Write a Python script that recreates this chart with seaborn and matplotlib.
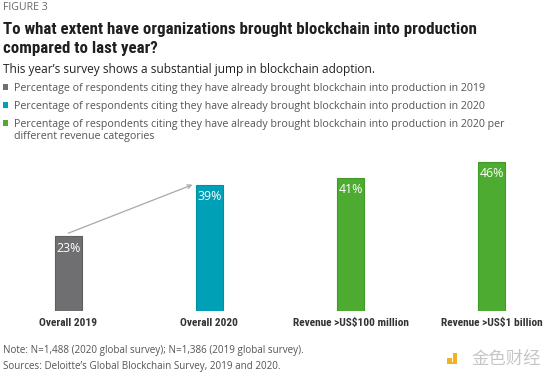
import matplotlib
matplotlib.use("Agg")
import matplotlib.pyplot as plt
import seaborn as sns
from matplotlib.patches import Rectangle

# data
categories = ["Overall 2019", "Overall 2020", "Revenue >US\\$100 million", "Revenue >US\\$1 billion"]
values = [23, 39, 41, 46]
bar_colors = ["#6f6f71", "#00a0b7", "#4eab31", "#4eab31"]
edge_colors = ["#5e5e60", "#008fa3", "#3f9a26", "#3f9a26"]

legend_labels = [
    "Percentage of respondents citing they have already brought blockchain into production in 2019",
    "Percentage of respondents citing they have already brought blockchain into production in 2020",
    "Percentage of respondents citing they have already brought blockchain into production in 2020 per\ndifferent revenue categories",
]
legend_colors = ["#6f6f71", "#00a0b7", "#4eab31"]

sns.set_style("white")
plt.rcParams["font.family"] = ["Open Sans", "DejaVu Sans"]

W, H = 555, 380
fig = plt.figure(figsize=(W / 100, H / 100), dpi=100)
fig.patch.set_facecolor("white")

def ftext(x, y, s, **kw):
    # place text using pixel coords from the top-left corner
    return fig.text(x / W, 1 - y / H, s, va="baseline", ha=kw.pop("ha", "left"), **kw)

narrow = ["Roboto Condensed", "Roboto", "DejaVu Sans"]

ftext(3, 10, "FIGURE 3", fontsize=7.6, color="#666666")
ftext(3, 34.3, "To what extent have organizations brought blockchain into production",
      fontsize=12.2, fontweight="bold", family=narrow, color="#1f1f1f")
ftext(3, 53.3, "compared to last year?", fontsize=12.2, fontweight="bold", family=narrow, color="#1f1f1f")
ftext(3, 73.3, "This year’s survey shows a substantial jump in blockchain adoption.",
      fontsize=8.6, color="#222222")

# legend rows
rows = [90.7, 108.7, 126.7]
for y, lab, col in zip(rows, legend_labels, legend_colors):
    fig.add_artist(Rectangle((2.7 / W, 1 - (y - 1) / H), 5.4 / W, 5.4 / H,
                             transform=fig.transFigure, facecolor=col, edgecolor="none"))
    for k, line in enumerate(lab.split("\n")):
        ftext(14, y + k * 12.6, line, fontsize=7.65, color="#555555")

# bars
ax = fig.add_axes([0, (H - 310.7) / H, 1, 160.7 / H])
sns.barplot(x=categories, y=values, hue=categories, palette=bar_colors,
            width=0.188, legend=False, ax=ax, saturation=1)
for patch, ec in zip(ax.patches, edge_colors):
    patch.set_edgecolor(ec)
    patch.set_linewidth(0.8)
ax.set_xlim(-0.484, 3.449)
ax.set_ylim(0, 49.75)
ax.set_yticks([])
ax.tick_params(axis="x", length=0, pad=5)
for lab in ax.get_xticklabels():
    lab.set_fontfamily(narrow)
    lab.set_fontweight("bold")
    lab.set_fontsize(8.2)
    lab.set_color("#333333")
sns.despine(ax=ax, left=True, bottom=True, top=True, right=True)
ax.set_facecolor("none")

for i, v in enumerate(values):
    ax.annotate(f"{v}%", (i, v), xytext=(0, -8.4), textcoords="offset points",
                ha="center", va="center", color="white", fontsize=8.9)

# arrow from 2019 to 2020
ax.annotate("", xy=(1 - 0.12, values[1]), xytext=(0, values[0] + 1),
            arrowprops=dict(arrowstyle="->", color="#a8a8a8", lw=0.9,
                            shrinkA=0, shrinkB=0, mutation_scale=7))

ftext(3, 353.3, "Note: N=1,488 (2020 global survey); N=1,386 (2019 global survey).",
      fontsize=7.15, color="#555555")
ftext(3, 369, "Sources: Deloitte’s Global Blockchain Survey, 2019 and 2020.",
      fontsize=7.15, color="#555555")

# watermark
fig.add_artist(Rectangle((447 / W, 1 - 362 / H), 4.5 / W, 4.5 / H,
                         transform=fig.transFigure, facecolor="#f0b323", edgecolor="none"))
fig.add_artist(Rectangle((453 / W, 1 - 364.3 / H), 4.3 / W, 11.5 / H,
                         transform=fig.transFigure, facecolor="#f0b323", edgecolor="none"))
fig.add_artist(Rectangle((447 / W, 1 - 364.3 / H), 10.3 / W, 2.5 / H,
                         transform=fig.transFigure, facecolor="#f0b323", edgecolor="none"))
ftext(471.7, 364, "金色财经", fontsize=12.5, color="#c6c6c6",
      family=["Noto Sans CJK SC", "DejaVu Sans"])

fig.savefig("out.png", dpi=100, facecolor="white")
